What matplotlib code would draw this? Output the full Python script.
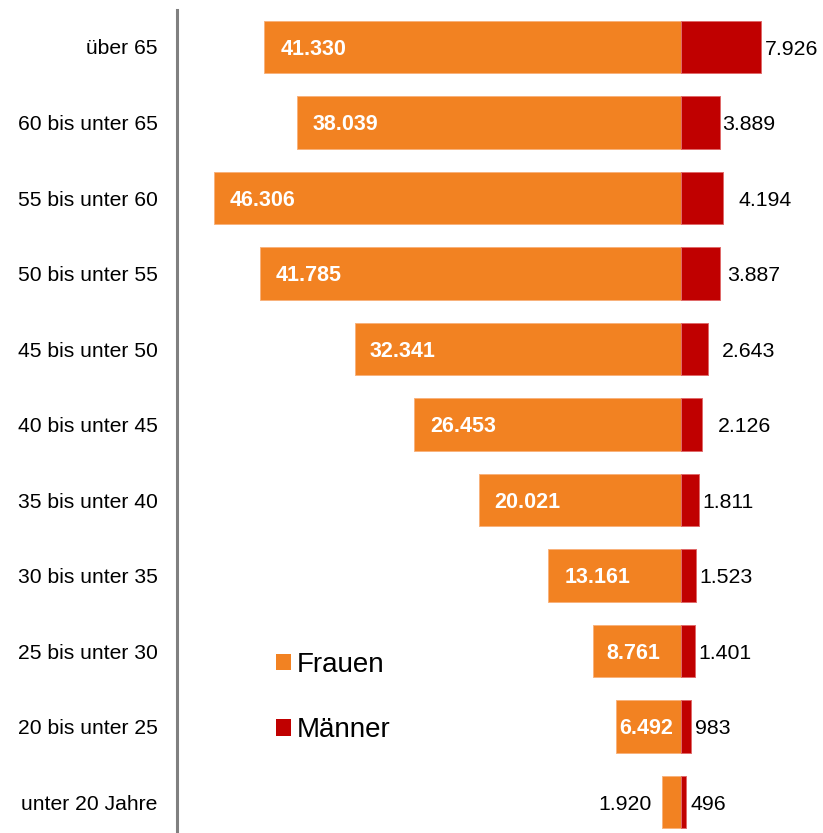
import matplotlib
matplotlib.use("Agg")
import matplotlib.pyplot as plt
from matplotlib.patches import Patch

plt.rcParams['font.family'] = ['Liberation Sans', 'DejaVu Sans']

categories = ["unter 20 Jahre", "20 bis unter 25", "25 bis unter 30", "30 bis unter 35",
              "35 bis unter 40", "40 bis unter 45", "45 bis unter 50", "50 bis unter 55",
              "55 bis unter 60", "60 bis unter 65", "über 65"]
frauen = [1920, 6492, 8761, 13161, 20021, 26453, 32341, 41785, 46306, 38039, 41330]
maenner = [496, 983, 1401, 1523, 1811, 2126, 2643, 3887, 4194, 3889, 7926]
frauen_labels = ["1.920", "6.492", "8.761", "13.161", "20.021", "26.453", "32.341",
                 "41.785", "46.306", "38.039", "41.330"]
maenner_labels = ["496", "983", "1.401", "1.523", "1.811", "2.126", "2.643",
                  "3.887", "4.194", "3.889", "7.926"]

# label placement styles (pixel gaps)
f_pad_px = [10, 4, 14, 16, 15, 16, 15, 16, 16, 15, 16]
f_inside = [False, True, True, True, True, True, True, True, True, True, True]
m_gap_px = [5, 4, 3, 3, 3, 15, 14, 7, 15, 2, 4]

ORANGE = "#F28222"
RED = "#C00000"

fig = plt.figure(figsize=(8.23, 8.33), dpi=100)
ax = fig.add_axes([177/823, 0, 1 - 177/823, (833-10)/833])

y = list(range(len(categories)))
h = 0.69
ax.barh(y, [-v for v in frauen], height=h, color=ORANGE, edgecolor="#F8B27C", linewidth=0.7)
ax.barh(y, maenner, height=h, color=RED, edgecolor="#E06A6A", linewidth=0.7)

px2pt = 0.72
dy = -1.5
for i in y:
    if f_inside[i]:
        ax.annotate(frauen_labels[i], xy=(-frauen[i], i), xytext=(f_pad_px[i]*px2pt, dy),
                    textcoords="offset points", ha="left", va="center",
                    color="white", fontweight="bold", fontsize=15.5)
    else:
        ax.annotate(frauen_labels[i], xy=(-frauen[i], i), xytext=(-f_pad_px[i]*px2pt, dy),
                    textcoords="offset points", ha="right", va="center",
                    color="black", fontsize=15.3)
    ax.annotate(maenner_labels[i], xy=(maenner[i], i), xytext=(m_gap_px[i]*px2pt, dy),
                textcoords="offset points", ha="left", va="center",
                color="black", fontsize=15.3)

ax.set_xlim(-49970, 14080)
ax.set_ylim(-0.41, 10.49)
ax.set_yticks(y)
ax.set_yticklabels(categories, fontsize=15.2)
ax.tick_params(axis="y", length=0, pad=14)
ax.set_xticks([])
for s in ["top", "right", "bottom"]:
    ax.spines[s].set_visible(False)
ax.spines["left"].set_color("#808080")
ax.spines["left"].set_linewidth(2.2)

handles = [Patch(facecolor=ORANGE, edgecolor="none", label="Frauen"),
           Patch(facecolor=RED, edgecolor="none", label="Männer")]
fig.legend(handles=handles, loc="upper left", bbox_to_anchor=(276/823, 1 - 652/833),
           frameon=False, fontsize=20, handlelength=0.54, handleheight=0.54,
           handletextpad=0.22, labelspacing=1.42, borderaxespad=0, borderpad=0)

fig.savefig("out.png", dpi=100)
